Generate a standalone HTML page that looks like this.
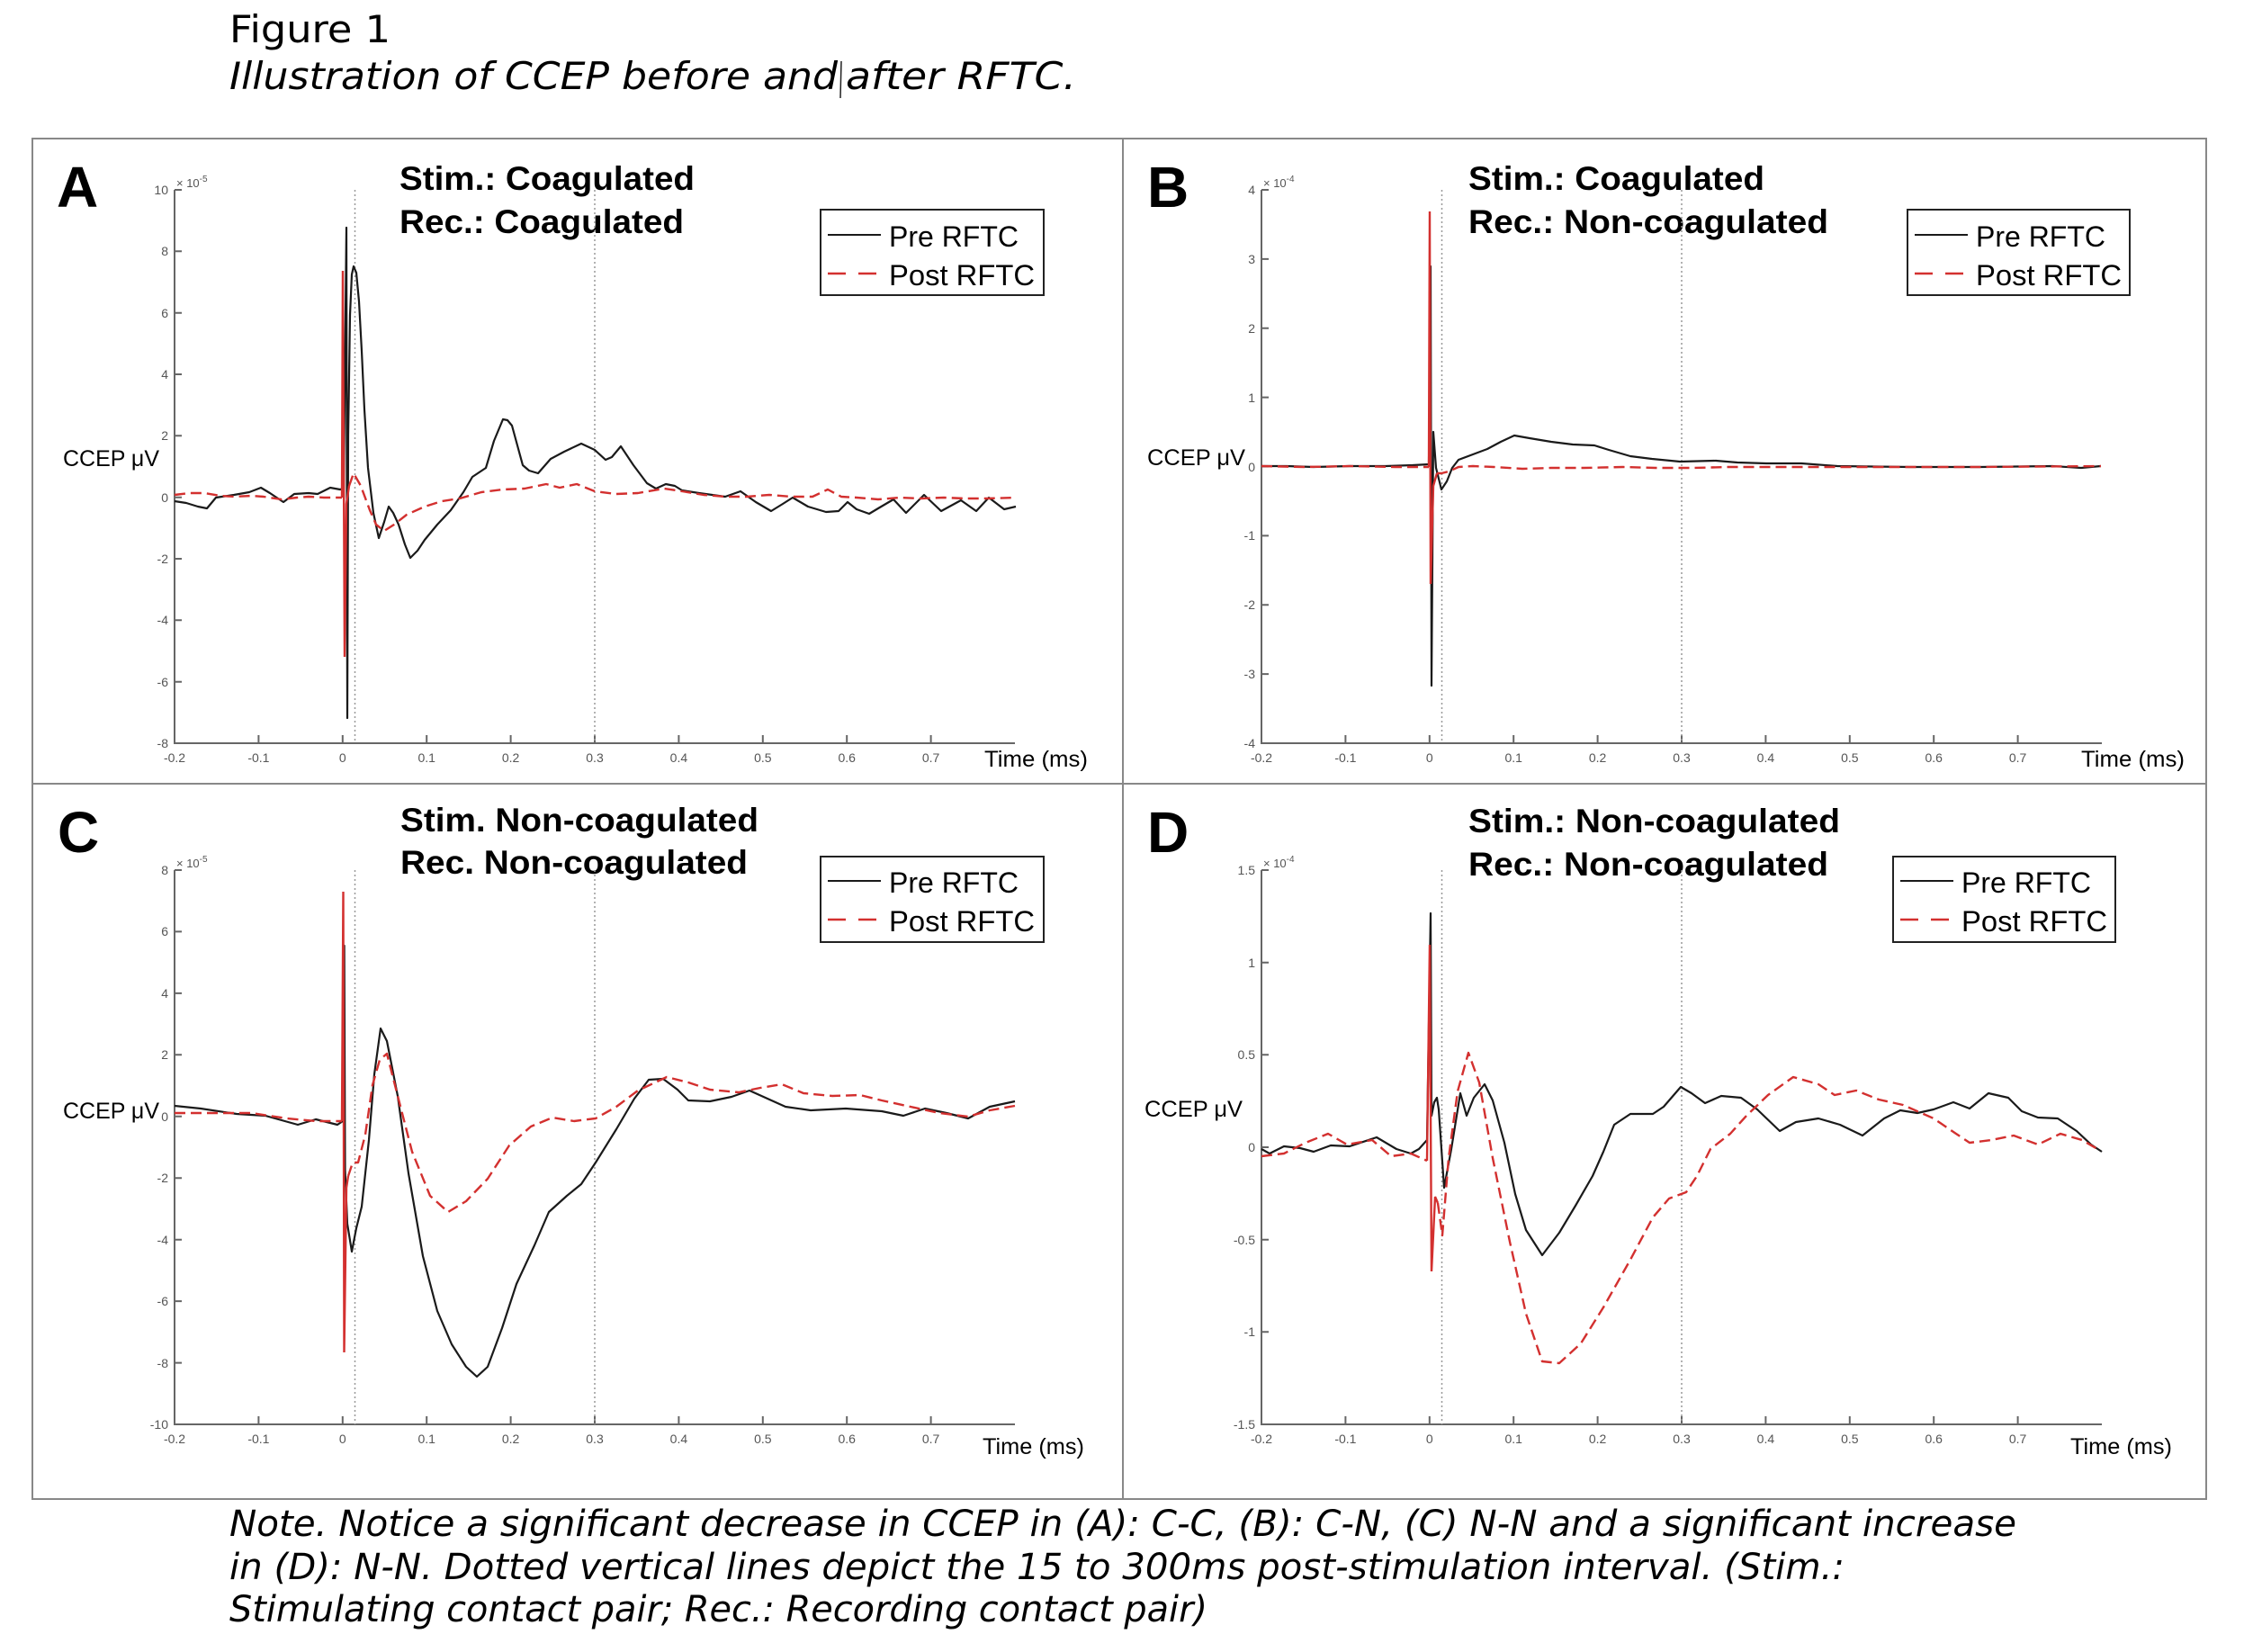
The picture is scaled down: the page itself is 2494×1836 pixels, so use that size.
<!DOCTYPE html>
<html><head><meta charset="utf-8"><style>
html,body{margin:0;padding:0;background:#fff;}
svg{display:block;}
.tk{font-family:"Liberation Sans",sans-serif;font-size:14px;fill:#555;}
.ty{text-anchor:end;}
.tx{text-anchor:middle;}
.ttl{font-family:"Liberation Sans",sans-serif;font-weight:bold;font-size:37px;fill:#000;}
.lab{font-family:"Liberation Sans",sans-serif;font-weight:bold;font-size:64px;fill:#000;}
.ax{font-family:"Liberation Sans",sans-serif;font-size:25px;fill:#000;}
.lg{font-family:"Liberation Sans",sans-serif;font-size:32px;fill:#000;}
.cap{font-family:"DejaVu Sans",sans-serif;font-size:42px;fill:#000;}
.note{font-family:"DejaVu Sans",sans-serif;font-style:italic;font-size:40px;fill:#000;}
.exp{font-family:"Liberation Sans",sans-serif;font-size:13px;fill:#555;}
.pre{fill:none;stroke:#1a1a1a;stroke-width:2.2;stroke-linejoin:round;}
.post{fill:none;stroke:#d3302f;stroke-width:2.4;stroke-dasharray:12 6;stroke-linejoin:round;}
.spk{fill:none;stroke:#d3302f;stroke-width:2.4;}
.axis{fill:none;stroke:#666;stroke-width:2;}
.dot{fill:none;stroke:#999;stroke-width:1.5;stroke-dasharray:2 3;}
</style></head><body>
<svg width="2494" height="1836" viewBox="0 0 2494 1836" xmlns="http://www.w3.org/2000/svg">
<rect width="2494" height="1836" fill="#fff"/>

<!-- Captions -->
<text class="cap" x="255" y="47" textLength="179" lengthAdjust="spacingAndGlyphs">Figure 1</text>
<text class="cap" x="255" y="99" font-style="italic" textLength="676" lengthAdjust="spacingAndGlyphs">Illustration of CCEP before and</text>
<text class="cap" x="940" y="99" font-style="italic" textLength="256" lengthAdjust="spacingAndGlyphs">after RFTC.</text>
<line x1="935" y1="68" x2="934" y2="109" stroke="#222" stroke-width="1.5"/>

<text class="note" x="255" y="1707" textLength="1986" lengthAdjust="spacingAndGlyphs">Note. Notice a significant decrease in CCEP in (A): C-C, (B): C-N, (C) N-N and a significant increase</text>
<text class="note" x="255" y="1755" textLength="1795" lengthAdjust="spacingAndGlyphs">in (D): N-N. Dotted vertical lines depict the 15 to 300ms post-stimulation interval. (Stim.:</text>
<text class="note" x="255" y="1802" textLength="1087" lengthAdjust="spacingAndGlyphs">Stimulating contact pair; Rec.: Recording contact pair)</text>

<!-- Frame -->
<rect x="36" y="154" width="2416" height="1512" fill="none" stroke="#888" stroke-width="2"/>
<line x1="1248" y1="154" x2="1248" y2="1666" stroke="#888" stroke-width="2"/>
<line x1="36" y1="871" x2="2452" y2="871" stroke="#888" stroke-width="2"/>

<!-- ================= PANEL A ================= -->
<text class="lab" x="63" y="230">A</text>
<text class="ttl" x="444" y="211" textLength="328" lengthAdjust="spacingAndGlyphs">Stim.: Coagulated</text>
<text class="ttl" x="444" y="259" textLength="316" lengthAdjust="spacingAndGlyphs">Rec.: Coagulated</text>
<text class="ax" x="70" y="518" textLength="107" lengthAdjust="spacingAndGlyphs">CCEP μV</text>
<text class="ax" x="1094" y="852" textLength="115" lengthAdjust="spacingAndGlyphs">Time (ms)</text>
<text class="exp" x="196" y="208">× 10<tspan font-size="10" dy="-6">-5</tspan></text>
<path class="axis" d="M194 211V826H1128"/>
<path class="axis" d="M194 211h8M194 279.3h8M194 347.7h8M194 416h8M194 484.3h8M194 552.7h8M194 621h8M194 689.3h8M194 757.7h8M287.4 826v-9M380.8 826v-9M474.2 826v-9M567.6 826v-9M661 826v-9M754.4 826v-9M847.8 826v-9M941.2 826v-9M1034.6 826v-9"/>
<g class="tk ty">
<text x="187" y="216">10</text><text x="187" y="284">8</text><text x="187" y="353">6</text><text x="187" y="421">4</text><text x="187" y="489">2</text><text x="187" y="558">0</text><text x="187" y="626">-2</text><text x="187" y="694">-4</text><text x="187" y="763">-6</text><text x="187" y="831">-8</text>
</g>
<g class="tk tx">
<text x="194" y="847">-0.2</text><text x="287.4" y="847">-0.1</text><text x="380.8" y="847">0</text><text x="474.2" y="847">0.1</text><text x="567.6" y="847">0.2</text><text x="661" y="847">0.3</text><text x="754.4" y="847">0.4</text><text x="847.8" y="847">0.5</text><text x="941.2" y="847">0.6</text><text x="1034.6" y="847">0.7</text>
</g>
<path class="dot" d="M394.5 211V826M661 211V826"/>
<polyline class="pre" points="194,557 207,559 220,563 230,565 240,553 260,550 277,547 290,542 300,548 315,558 327,549 343,548 353,549 367,542 378,544 382,543 385,253 386,798 387,484 389,350 391,305 393,296 396,303 399,335 402,390 405,455 409,520 415,570 421,598 427,580 432,563 437,570 443,583 450,605 456,620 464,612 472,600 486,583 501,567 515,547 525,530 540,520 549,490 559,466 564,467 569,473 575,495 581,517 588,523 598,526 612,510 627,502 646,493 661,500 673,511 680,508 690,496 704,517 719,537 729,543 740,538 750,540 758,545 777,548 806,552 823,546 840,558 857,568 870,560 881,553 898,563 918,569 932,568 942,558 952,566 966,571 976,565 993,555 1007,570 1027,550 1046,568 1068,556 1085,568 1099,553 1116,566 1129,563"/>
<polyline class="post" points="194,550 210,548 227,548 245,551 260,552 280,551 293,552 313,555 330,553 343,552 360,553 380,553"/>
<polyline class="spk" points="380,553 381,301 383,730 385,560 388,540"/>
<polyline class="post" points="388,540 393,526 401,540 411,567 418,583 427,590 438,583 452,572 472,563 491,557 511,554 535,547 559,544 583,543 607,538 622,542 641,538 661,546 685,549 709,548 738,543 758,546 782,550 806,552 830,552 855,550 879,552 903,552 920,544 935,552 952,553 976,555 1000,553 1024,554 1049,553 1073,554 1097,554 1129,553"/>
<rect x="912" y="233" width="248" height="95" fill="#fff" stroke="#222" stroke-width="2"/>
<line x1="920" y1="261" x2="979" y2="261" stroke="#1a1a1a" stroke-width="2"/>
<line x1="920" y1="304" x2="979" y2="304" stroke="#d3302f" stroke-width="2.4" stroke-dasharray="20 14"/>
<text class="lg" x="988" y="274" textLength="144" lengthAdjust="spacingAndGlyphs">Pre RFTC</text>
<text class="lg" x="988" y="317" textLength="162" lengthAdjust="spacingAndGlyphs">Post RFTC</text>

<!-- ================= PANEL B ================= -->
<text class="lab" x="1275" y="230">B</text>
<text class="ttl" x="1632" y="211" textLength="329" lengthAdjust="spacingAndGlyphs">Stim.: Coagulated</text>
<text class="ttl" x="1632" y="259" textLength="400" lengthAdjust="spacingAndGlyphs">Rec.: Non-coagulated</text>
<text class="ax" x="1275" y="517" textLength="109" lengthAdjust="spacingAndGlyphs">CCEP μV</text>
<text class="ax" x="2313" y="852" textLength="115" lengthAdjust="spacingAndGlyphs">Time (ms)</text>
<text class="exp" x="1404" y="208">× 10<tspan font-size="10" dy="-6">-4</tspan></text>
<path class="axis" d="M1402 211V826H2336"/>
<path class="axis" d="M1402 211h8M1402 287.9h8M1402 364.8h8M1402 441.6h8M1402 518.5h8M1402 595.4h8M1402 672.3h8M1402 749.1h8M1495.4 826v-9M1588.8 826v-9M1682.2 826v-9M1775.6 826v-9M1869 826v-9M1962.4 826v-9M2055.8 826v-9M2149.2 826v-9M2242.6 826v-9"/>
<g class="tk ty">
<text x="1395" y="216">4</text><text x="1395" y="293">3</text><text x="1395" y="370">2</text><text x="1395" y="447">1</text><text x="1395" y="524">0</text><text x="1395" y="600">-1</text><text x="1395" y="677">-2</text><text x="1395" y="754">-3</text><text x="1395" y="831">-4</text>
</g>
<g class="tk tx">
<text x="1402" y="847">-0.2</text><text x="1495.4" y="847">-0.1</text><text x="1588.8" y="847">0</text><text x="1682.2" y="847">0.1</text><text x="1775.6" y="847">0.2</text><text x="1869" y="847">0.3</text><text x="1962.4" y="847">0.4</text><text x="2055.8" y="847">0.5</text><text x="2149.2" y="847">0.6</text><text x="2242.6" y="847">0.7</text>
</g>
<path class="dot" d="M1602.5 211V826M1869 211V826"/>
<polyline class="pre" points="1402,518 1430,518 1460,519 1500,518 1540,518 1570,517 1588,516 1590,296 1591,762 1593,480 1596,520 1602,544 1608,535 1614,520 1621,511 1637,505 1653,499 1668,491 1683,484 1700,487 1724,491 1748,494 1772,495 1788,500 1812,507 1836,510 1867,513 1907,512 1931,514 1963,515 2002,515 2042,518 2122,519 2201,519 2281,518 2313,520 2335,518"/>
<polyline class="post" points="1402,518 1450,519 1500,518 1550,519 1588,519"/>
<polyline class="spk" points="1588,519 1589,235 1590,649 1593,540 1597,526"/>
<polyline class="post" points="1597,526 1602,526 1610,524 1621,519 1637,518 1660,519 1692,521 1724,520 1760,520 1804,519 1840,520 1883,520 1920,519 1963,519 2042,519 2100,519 2200,519 2335,518"/>
<rect x="2120" y="233" width="247" height="95" fill="#fff" stroke="#222" stroke-width="2"/>
<line x1="2128" y1="261" x2="2187" y2="261" stroke="#1a1a1a" stroke-width="2"/>
<line x1="2128" y1="304" x2="2187" y2="304" stroke="#d3302f" stroke-width="2.4" stroke-dasharray="20 14"/>
<text class="lg" x="2196" y="274" textLength="144" lengthAdjust="spacingAndGlyphs">Pre RFTC</text>
<text class="lg" x="2196" y="317" textLength="162" lengthAdjust="spacingAndGlyphs">Post RFTC</text>

<!-- ================= PANEL C ================= -->
<text class="lab" x="64" y="947">C</text>
<text class="ttl" x="445" y="924" textLength="398" lengthAdjust="spacingAndGlyphs">Stim. Non-coagulated</text>
<text class="ttl" x="445" y="971" textLength="386" lengthAdjust="spacingAndGlyphs">Rec. Non-coagulated</text>
<text class="ax" x="70" y="1243" textLength="107" lengthAdjust="spacingAndGlyphs">CCEP μV</text>
<text class="ax" x="1092" y="1616" textLength="113" lengthAdjust="spacingAndGlyphs">Time (ms)</text>
<text class="exp" x="196" y="964">× 10<tspan font-size="10" dy="-6">-5</tspan></text>
<path class="axis" d="M194 967V1583H1128"/>
<path class="axis" d="M194 967h8M194 1035.4h8M194 1103.9h8M194 1172.3h8M194 1240.8h8M194 1309.2h8M194 1377.7h8M194 1446.1h8M194 1514.6h8M287.4 1583v-9M380.8 1583v-9M474.2 1583v-9M567.6 1583v-9M661 1583v-9M754.4 1583v-9M847.8 1583v-9M941.2 1583v-9M1034.6 1583v-9"/>
<g class="tk ty">
<text x="187" y="972">8</text><text x="187" y="1040">6</text><text x="187" y="1109">4</text><text x="187" y="1177">2</text><text x="187" y="1246">0</text><text x="187" y="1314">-2</text><text x="187" y="1383">-4</text><text x="187" y="1451">-6</text><text x="187" y="1520">-8</text><text x="187" y="1588">-10</text>
</g>
<g class="tk tx">
<text x="194" y="1604">-0.2</text><text x="287.4" y="1604">-0.1</text><text x="380.8" y="1604">0</text><text x="474.2" y="1604">0.1</text><text x="567.6" y="1604">0.2</text><text x="661" y="1604">0.3</text><text x="754.4" y="1604">0.4</text><text x="847.8" y="1604">0.5</text><text x="941.2" y="1604">0.6</text><text x="1034.6" y="1604">0.7</text>
</g>
<path class="dot" d="M394.5 967V1583M661 967V1583"/>
<polyline class="pre" points="194,1229 223,1232 263,1238 295,1240 331,1250 351,1244 375,1250 381,1246 382.6,1051 383.5,1300 386,1360 391,1391 396,1365 402,1341 410,1267 416,1194 423,1143 430,1157 442,1218 454,1304 470,1396 486,1457 502,1494 518,1519 530,1530 542,1519 558,1476 574,1427 594,1384 610,1347 630,1329 646,1316 662,1292 685,1255 705,1221 721,1200 737,1199 753,1211 765,1223 789,1224 813,1219 833,1212 853,1221 873,1230 901,1234 940,1232 980,1235 1004,1240 1028,1232 1052,1237 1076,1243 1100,1230 1128,1224"/>
<polyline class="post" points="194,1237 239,1237 279,1237 319,1243 351,1246 380,1246"/>
<polyline class="spk" points="380,1246 381.5,991 382.5,1503 385,1320 387,1307"/>
<polyline class="post" points="387,1307 392,1292 398,1292 406,1261 414,1206 422,1178 430,1171 442,1218 458,1280 478,1329 498,1347 518,1335 542,1310 566,1273 590,1252 614,1242 638,1246 662,1243 685,1230 709,1212 741,1197 765,1203 789,1211 821,1214 845,1209 869,1205 893,1215 925,1218 956,1217 980,1223 1012,1230 1044,1237 1076,1241 1100,1234 1128,1229"/>
<rect x="912" y="952" width="248" height="95" fill="#fff" stroke="#222" stroke-width="2"/>
<line x1="920" y1="979" x2="979" y2="979" stroke="#1a1a1a" stroke-width="2"/>
<line x1="920" y1="1022" x2="979" y2="1022" stroke="#d3302f" stroke-width="2.4" stroke-dasharray="20 14"/>
<text class="lg" x="988" y="992" textLength="144" lengthAdjust="spacingAndGlyphs">Pre RFTC</text>
<text class="lg" x="988" y="1035" textLength="162" lengthAdjust="spacingAndGlyphs">Post RFTC</text>

<!-- ================= PANEL D ================= -->
<text class="lab" x="1275" y="947">D</text>
<text class="ttl" x="1632" y="925" textLength="413" lengthAdjust="spacingAndGlyphs">Stim.: Non-coagulated</text>
<text class="ttl" x="1632" y="973" textLength="400" lengthAdjust="spacingAndGlyphs">Rec.: Non-coagulated</text>
<text class="ax" x="1272" y="1241" textLength="109" lengthAdjust="spacingAndGlyphs">CCEP μV</text>
<text class="ax" x="2301" y="1616" textLength="113" lengthAdjust="spacingAndGlyphs">Time (ms)</text>
<text class="exp" x="1404" y="964">× 10<tspan font-size="10" dy="-6">-4</tspan></text>
<path class="axis" d="M1402 967V1583H2336"/>
<path class="axis" d="M1402 967h8M1402 1069.7h8M1402 1172.3h8M1402 1275h8M1402 1377.7h8M1402 1480.3h8M1495.4 1583v-9M1588.8 1583v-9M1682.2 1583v-9M1775.6 1583v-9M1869 1583v-9M1962.4 1583v-9M2055.8 1583v-9M2149.2 1583v-9M2242.6 1583v-9"/>
<g class="tk ty">
<text x="1395" y="972">1.5</text><text x="1395" y="1075">1</text><text x="1395" y="1177">0.5</text><text x="1395" y="1280">0</text><text x="1395" y="1383">-0.5</text><text x="1395" y="1485">-1</text><text x="1395" y="1588">-1.5</text>
</g>
<g class="tk tx">
<text x="1402" y="1604">-0.2</text><text x="1495.4" y="1604">-0.1</text><text x="1588.8" y="1604">0</text><text x="1682.2" y="1604">0.1</text><text x="1775.6" y="1604">0.2</text><text x="1869" y="1604">0.3</text><text x="1962.4" y="1604">0.4</text><text x="2055.8" y="1604">0.5</text><text x="2149.2" y="1604">0.6</text><text x="2242.6" y="1604">0.7</text>
</g>
<path class="dot" d="M1602.5 967V1583M1869 967V1583"/>
<polyline class="pre" points="1402,1277 1411,1282 1427,1274 1445,1276 1460,1280 1479,1273 1500,1274 1530,1264 1552,1277 1568,1282 1577,1277 1586,1267 1590,1015 1591,1240 1594,1225 1597,1220 1599,1233 1605,1320 1613,1277 1623,1215 1630,1240 1638,1220 1650,1205 1659,1223 1672,1270 1684,1327 1696,1367 1714,1395 1733,1370 1751,1340 1770,1307 1782,1280 1794,1250 1812,1238 1837,1238 1849,1230 1868,1208 1880,1215 1895,1226 1913,1218 1935,1220 1953,1233 1978,1257 1996,1247 2021,1243 2045,1250 2070,1262 2094,1243 2112,1234 2131,1237 2149,1233 2171,1225 2189,1232 2210,1215 2232,1220 2247,1235 2265,1242 2287,1243 2308,1257 2324,1272 2336,1280"/>
<polyline class="post" points="1402,1285 1427,1282 1451,1270 1476,1260 1497,1272 1525,1267 1546,1285 1568,1282 1586,1290"/>
<polyline class="spk" points="1586,1290 1589,1050 1591,1413 1595,1330 1598,1337"/>
<polyline class="post" points="1598,1337 1603,1373 1610,1287 1620,1213 1632,1170 1644,1203 1659,1287 1678,1380 1696,1460 1714,1513 1733,1515 1757,1493 1782,1453 1812,1400 1837,1353 1855,1332 1874,1325 1886,1307 1901,1277 1923,1260 1941,1240 1965,1217 1993,1197 2021,1205 2039,1217 2063,1212 2088,1222 2115,1228 2149,1243 2174,1260 2189,1270 2213,1267 2238,1262 2265,1272 2290,1260 2314,1267 2333,1278"/>
<rect x="2104" y="952" width="247" height="95" fill="#fff" stroke="#222" stroke-width="2"/>
<line x1="2112" y1="979" x2="2171" y2="979" stroke="#1a1a1a" stroke-width="2"/>
<line x1="2112" y1="1022" x2="2171" y2="1022" stroke="#d3302f" stroke-width="2.4" stroke-dasharray="20 14"/>
<text class="lg" x="2180" y="992" textLength="144" lengthAdjust="spacingAndGlyphs">Pre RFTC</text>
<text class="lg" x="2180" y="1035" textLength="162" lengthAdjust="spacingAndGlyphs">Post RFTC</text>
</svg>
</body></html>
